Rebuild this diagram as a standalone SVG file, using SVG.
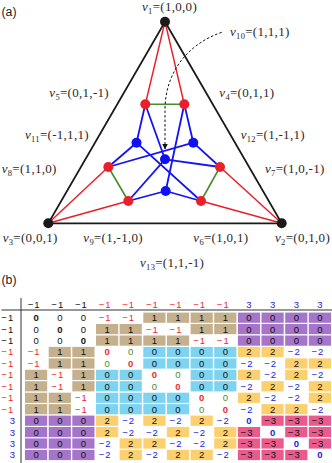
<svg xmlns="http://www.w3.org/2000/svg" width="332" height="463" viewBox="0 0 332 463">
<style>
.lbl{font-family:"Liberation Serif","Times New Roman",serif;font-size:13px;fill:#2a2a2a;letter-spacing:0.3px}
.v{font-style:italic}
.s{font-size:8.5px}
.pl{font-family:"Liberation Sans",Arial,sans-serif;font-size:12.3px;fill:#222}
.eb{stroke:#1a1a1a;stroke-width:1.8;fill:none}
.er{stroke:#e8202a;stroke-width:1.5}
.eu{stroke:#1414f0;stroke-width:1.8}
.eg{stroke:#4a8a30;stroke-width:1.6}
.nk{fill:#1a1a1a}
.nr{fill:#e8202a}
.nb{fill:#1010f0}
.m{font-family:"Liberation Sans",Arial,sans-serif;font-size:9.5px;text-anchor:middle;fill:#111}
.r{fill:#ee2a30}
.b{fill:#2222e0}
.g{fill:#4e8a2e}
.w{font-weight:bold}
.cb{fill:#c4b08c}
.cp{fill:#a475c8}
.cc{fill:#7ed3f0}
.cy{fill:#fcd06e}
.ck{fill:#ea5a8c}
.ax{stroke:#333;stroke-width:1}
</style>
<defs>
<marker id="ah" viewBox="0 0 6 6" refX="5.5" refY="3" markerWidth="6" markerHeight="6" orient="auto" markerUnits="userSpaceOnUse">
<path d="M0,0 L6,3 L0,6 z" fill="#111"/>
</marker>
</defs>

<text class="pl" x="1.5" y="15.7">(a)</text>

<g id="connectors">
<polygon class="eb" points="165,21.7 281.7,223.3 48.3,223.3"/>
<line class="er" x1="165" y1="21.7" x2="145.3" y2="104.3"/>
<line class="er" x1="165" y1="21.7" x2="184.3" y2="104.3"/>
<line class="er" x1="48.3" y1="223.3" x2="108.3" y2="167"/>
<line class="er" x1="48.3" y1="223.3" x2="128.3" y2="201"/>
<line class="er" x1="281.7" y1="223.3" x2="220" y2="167"/>
<line class="er" x1="281.7" y1="223.3" x2="201" y2="201"/>
<line class="eg" x1="145.3" y1="104.3" x2="184.3" y2="104.3"/>
<line class="eg" x1="108.3" y1="167" x2="128.3" y2="201"/>
<line class="eg" x1="220" y1="167" x2="201" y2="201"/>
<line class="eu" x1="184.3" y1="104.3" x2="193.3" y2="142.7"/>
<line class="eu" x1="184.3" y1="104.3" x2="165.7" y2="191"/>
<line class="eu" x1="145.3" y1="104.3" x2="165" y2="159.3"/>
<line class="eu" x1="145.3" y1="104.3" x2="136.5" y2="142.7"/>
<line class="eu" x1="201" y1="201" x2="136.5" y2="142.7"/>
<line class="eu" x1="201" y1="201" x2="165.7" y2="191"/>
<line class="eu" x1="220" y1="167" x2="165" y2="159.3"/>
<line class="eu" x1="220" y1="167" x2="193.3" y2="142.7"/>
<line class="eu" x1="108.3" y1="167" x2="136.5" y2="142.7"/>
<line class="eu" x1="108.3" y1="167" x2="193.3" y2="142.7"/>
<line class="eu" x1="128.3" y1="201" x2="165" y2="159.3"/>
<line class="eu" x1="128.3" y1="201" x2="165.7" y2="191"/>
<path d="M221.7,32.3 C185,45 165,75 165,110 L165,149" fill="none" stroke="#111" stroke-width="1" stroke-dasharray="2.5 2" marker-end="url(#ah)"/>
</g>

<g id="v1"><circle class="nk" cx="165" cy="21.7" r="5"/><text class="lbl" x="142" y="10.8"><tspan class="v">v</tspan><tspan class="s" dy="3">1</tspan><tspan dy="-3">=(1,0,0)</tspan></text></g>
<g id="v2"><circle class="nk" cx="281.7" cy="223.3" r="5"/><text class="lbl" x="275" y="241.7"><tspan class="v">v</tspan><tspan class="s" dy="3">2</tspan><tspan dy="-3">=(0,1,0)</tspan></text></g>
<g id="v3"><circle class="nk" cx="48.3" cy="223.3" r="5"/><text class="lbl" x="2.7" y="241.7"><tspan class="v">v</tspan><tspan class="s" dy="3">3</tspan><tspan dy="-3">=(0,0,1)</tspan></text></g>
<g id="v4"><circle class="nr" cx="184.3" cy="104.3" r="5"/><text class="lbl" x="219.3" y="96.7"><tspan class="v">v</tspan><tspan class="s" dy="3">4</tspan><tspan dy="-3">=(0,1,1)</tspan></text></g>
<g id="v5"><circle class="nr" cx="145.3" cy="104.3" r="5"/><text class="lbl" x="49.3" y="96.7"><tspan class="v">v</tspan><tspan class="s" dy="3">5</tspan><tspan dy="-3">=(0,1,-1)</tspan></text></g>
<g id="v6"><circle class="nr" cx="201" cy="201" r="5"/><text class="lbl" x="193.3" y="241.7"><tspan class="v">v</tspan><tspan class="s" dy="3">6</tspan><tspan dy="-3">=(1,0,1)</tspan></text></g>
<g id="v7"><circle class="nr" cx="220" cy="167" r="5"/><text class="lbl" x="265" y="173.3"><tspan class="v">v</tspan><tspan class="s" dy="3">7</tspan><tspan dy="-3">=(1,0,-1)</tspan></text></g>
<g id="v8"><circle class="nr" cx="108.3" cy="167" r="5"/><text class="lbl" x="1.7" y="173.3"><tspan class="v">v</tspan><tspan class="s" dy="3">8</tspan><tspan dy="-3">=(1,1,0)</tspan></text></g>
<g id="v9"><circle class="nr" cx="128.3" cy="201" r="5"/><text class="lbl" x="83.3" y="241.7"><tspan class="v">v</tspan><tspan class="s" dy="3">9</tspan><tspan dy="-3">=(1,-1,0)</tspan></text></g>
<g id="v10"><circle class="nb" cx="165" cy="159.3" r="5"/><text class="lbl" x="230" y="35.7"><tspan class="v">v</tspan><tspan class="s" dy="3">10</tspan><tspan dy="-3">=(1,1,1)</tspan></text></g>
<g id="v11"><circle class="nb" cx="136.5" cy="142.7" r="5"/><text class="lbl" x="25" y="139.3"><tspan class="v">v</tspan><tspan class="s" dy="3">11</tspan><tspan dy="-3">=(-1,1,1)</tspan></text></g>
<g id="v12"><circle class="nb" cx="193.3" cy="142.7" r="5"/><text class="lbl" x="240.7" y="139.3"><tspan class="v">v</tspan><tspan class="s" dy="3">12</tspan><tspan dy="-3">=(1,-1,1)</tspan></text></g>
<g id="v13"><circle class="nb" cx="165.7" cy="191" r="5"/><text class="lbl" x="140" y="266.7"><tspan class="v">v</tspan><tspan class="s" dy="3">13</tspan><tspan dy="-3">=(1,1,-1)</tspan></text></g>

<text class="pl" x="1.5" y="284">(b)</text>

<g id="matrix">
<line class="ax" x1="1.5" y1="310" x2="332" y2="310"/>
<line class="ax" x1="21" y1="298" x2="21" y2="463"/>

<g transform="translate(0,304.4)">
<text class="m" x="33.6" y="3.4">−<tspan dx="1">1</tspan></text>
<text class="m" x="57.3" y="3.4">−<tspan dx="1">1</tspan></text>
<text class="m" x="80.9" y="3.4">−<tspan dx="1">1</tspan></text>
<text class="m r" x="104.6" y="3.4">−<tspan dx="1">1</tspan></text>
<text class="m r" x="128.2" y="3.4">−<tspan dx="1">1</tspan></text>
<text class="m r" x="151.9" y="3.4">−<tspan dx="1">1</tspan></text>
<text class="m r" x="175.5" y="3.4">−<tspan dx="1">1</tspan></text>
<text class="m r" x="199.2" y="3.4">−<tspan dx="1">1</tspan></text>
<text class="m r" x="222.8" y="3.4">−<tspan dx="1">1</tspan></text>
<text class="m b" x="249" y="3.4">3</text>
<text class="m b" x="272.6" y="3.4">3</text>
<text class="m b" x="296.3" y="3.4">3</text>
<text class="m b" x="319.9" y="3.4">3</text>
</g>

<!-- row 1 -->
<g transform="translate(0,317.7)">
<text class="m" x="7.3" y="3.4">−<tspan dx="1">1</tspan></text>
<rect class="cb" x="143.3" y="-5.1" width="22.2" height="10.2"/><rect class="cb" x="166.9" y="-5.1" width="22.2" height="10.2"/><rect class="cb" x="190.6" y="-5.1" width="22.2" height="10.2"/><rect class="cb" x="214.2" y="-5.1" width="22.2" height="10.2"/>
<rect class="cp" x="237.9" y="-5.1" width="22.2" height="10.2"/><rect class="cp" x="261.5" y="-5.1" width="22.2" height="10.2"/><rect class="cp" x="285.2" y="-5.1" width="22.2" height="10.2"/><rect class="cp" x="308.8" y="-5.1" width="22.2" height="10.2"/>
<text class="m w" x="36.1" y="3.4">0</text><text class="m" x="59.8" y="3.4">0</text><text class="m" x="83.4" y="3.4">0</text>
<text class="m r" x="104.6" y="3.4">−<tspan dx="1">1</tspan></text><text class="m r" x="128.2" y="3.4">−<tspan dx="1">1</tspan></text>
<text class="m" x="154.4" y="3.4">1</text><text class="m" x="178" y="3.4">1</text><text class="m" x="201.7" y="3.4">1</text><text class="m" x="225.3" y="3.4">1</text>
<text class="m" x="249" y="3.4">0</text><text class="m" x="272.6" y="3.4">0</text><text class="m" x="296.3" y="3.4">0</text><text class="m" x="319.9" y="3.4">0</text>
</g>

<!-- row 2 -->
<g transform="translate(0,329.1)">
<text class="m" x="7.3" y="3.4">−<tspan dx="1">1</tspan></text>
<rect class="cb" x="96" y="-5.1" width="22.2" height="10.2"/><rect class="cb" x="119.6" y="-5.1" width="22.2" height="10.2"/><rect class="cb" x="190.6" y="-5.1" width="22.2" height="10.2"/><rect class="cb" x="214.2" y="-5.1" width="22.2" height="10.2"/>
<rect class="cp" x="237.9" y="-5.1" width="22.2" height="10.2"/><rect class="cp" x="261.5" y="-5.1" width="22.2" height="10.2"/><rect class="cp" x="285.2" y="-5.1" width="22.2" height="10.2"/><rect class="cp" x="308.8" y="-5.1" width="22.2" height="10.2"/>
<text class="m" x="36.1" y="3.4">0</text><text class="m w" x="59.8" y="3.4">0</text><text class="m" x="83.4" y="3.4">0</text>
<text class="m" x="107.1" y="3.4">1</text><text class="m" x="130.7" y="3.4">1</text>
<text class="m r" x="151.9" y="3.4">−<tspan dx="1">1</tspan></text><text class="m r" x="175.5" y="3.4">−<tspan dx="1">1</tspan></text>
<text class="m" x="201.7" y="3.4">1</text><text class="m" x="225.3" y="3.4">1</text>
<text class="m" x="249" y="3.4">0</text><text class="m" x="272.6" y="3.4">0</text><text class="m" x="296.3" y="3.4">0</text><text class="m" x="319.9" y="3.4">0</text>
</g>

<!-- row 3 -->
<g transform="translate(0,340.6)">
<text class="m" x="7.3" y="3.4">−<tspan dx="1">1</tspan></text>
<rect class="cb" x="96" y="-5.1" width="22.2" height="10.2"/><rect class="cb" x="119.6" y="-5.1" width="22.2" height="10.2"/><rect class="cb" x="143.3" y="-5.1" width="22.2" height="10.2"/><rect class="cb" x="166.9" y="-5.1" width="22.2" height="10.2"/>
<rect class="cp" x="237.9" y="-5.1" width="22.2" height="10.2"/><rect class="cp" x="261.5" y="-5.1" width="22.2" height="10.2"/><rect class="cp" x="285.2" y="-5.1" width="22.2" height="10.2"/><rect class="cp" x="308.8" y="-5.1" width="22.2" height="10.2"/>
<text class="m" x="36.1" y="3.4">0</text><text class="m" x="59.8" y="3.4">0</text><text class="m w" x="83.4" y="3.4">0</text>
<text class="m" x="107.1" y="3.4">1</text><text class="m" x="130.7" y="3.4">1</text><text class="m" x="154.4" y="3.4">1</text><text class="m" x="178" y="3.4">1</text>
<text class="m r" x="199.2" y="3.4">−<tspan dx="1">1</tspan></text><text class="m r" x="222.8" y="3.4">−<tspan dx="1">1</tspan></text>
<text class="m" x="249" y="3.4">0</text><text class="m" x="272.6" y="3.4">0</text><text class="m" x="296.3" y="3.4">0</text><text class="m" x="319.9" y="3.4">0</text>
</g>

<!-- row 4 -->
<g transform="translate(0,352)">
<text class="m r" x="7.3" y="3.4">−<tspan dx="1">1</tspan></text>
<rect class="cb" x="48.7" y="-5.1" width="22.2" height="10.2"/><rect class="cb" x="72.3" y="-5.1" width="22.2" height="10.2"/>
<rect class="cc" x="143.3" y="-5.1" width="22.2" height="10.2"/><rect class="cc" x="166.9" y="-5.1" width="22.2" height="10.2"/><rect class="cc" x="190.6" y="-5.1" width="22.2" height="10.2"/><rect class="cc" x="214.2" y="-5.1" width="22.2" height="10.2"/>
<rect class="cy" x="237.9" y="-5.1" width="22.2" height="10.2"/><rect class="cy" x="261.5" y="-5.1" width="22.2" height="10.2"/>
<text class="m r" x="33.6" y="3.4">−<tspan dx="1">1</tspan></text>
<text class="m" x="59.8" y="3.4">1</text><text class="m" x="83.4" y="3.4">1</text>
<text class="m r w" x="107.1" y="3.4">0</text><text class="m g" x="130.7" y="3.4">0</text>
<text class="m" x="154.4" y="3.4">0</text><text class="m" x="178" y="3.4">0</text><text class="m" x="201.7" y="3.4">0</text><text class="m" x="225.3" y="3.4">0</text>
<text class="m" x="249" y="3.4">2</text><text class="m" x="272.6" y="3.4">2</text>
<text class="m b" x="293.8" y="3.4">−<tspan dx="1">2</tspan></text><text class="m b" x="317.4" y="3.4">−<tspan dx="1">2</tspan></text>
</g>

<!-- row 5 -->
<g transform="translate(0,363.5)">
<text class="m r" x="7.3" y="3.4">−<tspan dx="1">1</tspan></text>
<rect class="cb" x="48.7" y="-5.1" width="22.2" height="10.2"/><rect class="cb" x="72.3" y="-5.1" width="22.2" height="10.2"/>
<rect class="cc" x="143.3" y="-5.1" width="22.2" height="10.2"/><rect class="cc" x="166.9" y="-5.1" width="22.2" height="10.2"/><rect class="cc" x="190.6" y="-5.1" width="22.2" height="10.2"/><rect class="cc" x="214.2" y="-5.1" width="22.2" height="10.2"/>
<rect class="cy" x="285.2" y="-5.1" width="22.2" height="10.2"/><rect class="cy" x="308.8" y="-5.1" width="22.2" height="10.2"/>
<text class="m r" x="33.6" y="3.4">−<tspan dx="1">1</tspan></text>
<text class="m" x="59.8" y="3.4">1</text><text class="m" x="83.4" y="3.4">1</text>
<text class="m g" x="107.1" y="3.4">0</text><text class="m r w" x="130.7" y="3.4">0</text>
<text class="m" x="154.4" y="3.4">0</text><text class="m" x="178" y="3.4">0</text><text class="m" x="201.7" y="3.4">0</text><text class="m" x="225.3" y="3.4">0</text>
<text class="m b" x="246.5" y="3.4">−<tspan dx="1">2</tspan></text><text class="m b" x="270.1" y="3.4">−<tspan dx="1">2</tspan></text>
<text class="m" x="296.3" y="3.4">2</text><text class="m" x="319.9" y="3.4">2</text>
</g>

<!-- row 6 -->
<g transform="translate(0,374.9)">
<text class="m r" x="7.3" y="3.4">−<tspan dx="1">1</tspan></text>
<rect class="cb" x="25" y="-5.1" width="22.2" height="10.2"/><rect class="cb" x="72.3" y="-5.1" width="22.2" height="10.2"/>
<rect class="cc" x="96" y="-5.1" width="22.2" height="10.2"/><rect class="cc" x="119.6" y="-5.1" width="22.2" height="10.2"/><rect class="cc" x="190.6" y="-5.1" width="22.2" height="10.2"/><rect class="cc" x="214.2" y="-5.1" width="22.2" height="10.2"/>
<rect class="cy" x="237.9" y="-5.1" width="22.2" height="10.2"/><rect class="cy" x="285.2" y="-5.1" width="22.2" height="10.2"/>
<text class="m" x="36.1" y="3.4">1</text><text class="m r" x="57.3" y="3.4">−<tspan dx="1">1</tspan></text><text class="m" x="83.4" y="3.4">1</text>
<text class="m" x="107.1" y="3.4">0</text><text class="m" x="130.7" y="3.4">0</text>
<text class="m r w" x="154.4" y="3.4">0</text><text class="m g" x="178" y="3.4">0</text>
<text class="m" x="201.7" y="3.4">0</text><text class="m" x="225.3" y="3.4">0</text>
<text class="m" x="249" y="3.4">2</text><text class="m b" x="270.1" y="3.4">−<tspan dx="1">2</tspan></text>
<text class="m" x="296.3" y="3.4">2</text><text class="m b" x="317.4" y="3.4">−<tspan dx="1">2</tspan></text>
</g>

<!-- row 7 -->
<g transform="translate(0,386.3)">
<text class="m r" x="7.3" y="3.4">−<tspan dx="1">1</tspan></text>
<rect class="cb" x="25" y="-5.1" width="22.2" height="10.2"/><rect class="cb" x="72.3" y="-5.1" width="22.2" height="10.2"/>
<rect class="cc" x="96" y="-5.1" width="22.2" height="10.2"/><rect class="cc" x="119.6" y="-5.1" width="22.2" height="10.2"/><rect class="cc" x="190.6" y="-5.1" width="22.2" height="10.2"/><rect class="cc" x="214.2" y="-5.1" width="22.2" height="10.2"/>
<rect class="cy" x="261.5" y="-5.1" width="22.2" height="10.2"/><rect class="cy" x="308.8" y="-5.1" width="22.2" height="10.2"/>
<text class="m" x="36.1" y="3.4">1</text><text class="m r" x="57.3" y="3.4">−<tspan dx="1">1</tspan></text><text class="m" x="83.4" y="3.4">1</text>
<text class="m" x="107.1" y="3.4">0</text><text class="m" x="130.7" y="3.4">0</text>
<text class="m g" x="154.4" y="3.4">0</text><text class="m r w" x="178" y="3.4">0</text>
<text class="m" x="201.7" y="3.4">0</text><text class="m" x="225.3" y="3.4">0</text>
<text class="m b" x="246.5" y="3.4">−<tspan dx="1">2</tspan></text><text class="m" x="272.6" y="3.4">2</text>
<text class="m b" x="293.8" y="3.4">−<tspan dx="1">2</tspan></text><text class="m" x="319.9" y="3.4">2</text>
</g>

<!-- row 8 -->
<g transform="translate(0,397.8)">
<text class="m r" x="7.3" y="3.4">−<tspan dx="1">1</tspan></text>
<rect class="cb" x="25" y="-5.1" width="22.2" height="10.2"/><rect class="cb" x="48.7" y="-5.1" width="22.2" height="10.2"/>
<rect class="cc" x="96" y="-5.1" width="22.2" height="10.2"/><rect class="cc" x="119.6" y="-5.1" width="22.2" height="10.2"/><rect class="cc" x="143.3" y="-5.1" width="22.2" height="10.2"/><rect class="cc" x="166.9" y="-5.1" width="22.2" height="10.2"/>
<rect class="cy" x="237.9" y="-5.1" width="22.2" height="10.2"/><rect class="cy" x="308.8" y="-5.1" width="22.2" height="10.2"/>
<text class="m" x="36.1" y="3.4">1</text><text class="m" x="59.8" y="3.4">1</text><text class="m r" x="80.9" y="3.4">−<tspan dx="1">1</tspan></text>
<text class="m" x="107.1" y="3.4">0</text><text class="m" x="130.7" y="3.4">0</text><text class="m" x="154.4" y="3.4">0</text><text class="m" x="178" y="3.4">0</text>
<text class="m r w" x="201.7" y="3.4">0</text><text class="m g" x="225.3" y="3.4">0</text>
<text class="m" x="249" y="3.4">2</text><text class="m b" x="270.1" y="3.4">−<tspan dx="1">2</tspan></text>
<text class="m b" x="293.8" y="3.4">−<tspan dx="1">2</tspan></text><text class="m" x="319.9" y="3.4">2</text>
</g>

<!-- row 9 -->
<g transform="translate(0,409.2)">
<text class="m r" x="7.3" y="3.4">−<tspan dx="1">1</tspan></text>
<rect class="cb" x="25" y="-5.1" width="22.2" height="10.2"/><rect class="cb" x="48.7" y="-5.1" width="22.2" height="10.2"/>
<rect class="cc" x="96" y="-5.1" width="22.2" height="10.2"/><rect class="cc" x="119.6" y="-5.1" width="22.2" height="10.2"/><rect class="cc" x="143.3" y="-5.1" width="22.2" height="10.2"/><rect class="cc" x="166.9" y="-5.1" width="22.2" height="10.2"/>
<rect class="cy" x="261.5" y="-5.1" width="22.2" height="10.2"/><rect class="cy" x="285.2" y="-5.1" width="22.2" height="10.2"/>
<text class="m" x="36.1" y="3.4">1</text><text class="m" x="59.8" y="3.4">1</text><text class="m r" x="80.9" y="3.4">−<tspan dx="1">1</tspan></text>
<text class="m" x="107.1" y="3.4">0</text><text class="m" x="130.7" y="3.4">0</text><text class="m" x="154.4" y="3.4">0</text><text class="m" x="178" y="3.4">0</text>
<text class="m g" x="201.7" y="3.4">0</text><text class="m r w" x="225.3" y="3.4">0</text>
<text class="m b" x="246.5" y="3.4">−<tspan dx="1">2</tspan></text><text class="m" x="272.6" y="3.4">2</text>
<text class="m" x="296.3" y="3.4">2</text><text class="m b" x="317.4" y="3.4">−<tspan dx="1">2</tspan></text>
</g>

<!-- row 10 -->
<g transform="translate(0,420.7)">
<text class="m b" x="12.5" y="3.4">3</text>
<rect class="cp" x="25" y="-5.1" width="22.2" height="10.2"/><rect class="cp" x="48.7" y="-5.1" width="22.2" height="10.2"/><rect class="cp" x="72.3" y="-5.1" width="22.2" height="10.2"/>
<rect class="cy" x="96" y="-5.1" width="22.2" height="10.2"/><rect class="cy" x="143.3" y="-5.1" width="22.2" height="10.2"/><rect class="cy" x="190.6" y="-5.1" width="22.2" height="10.2"/>
<rect class="ck" x="261.5" y="-5.1" width="22.2" height="10.2"/><rect class="ck" x="285.2" y="-5.1" width="22.2" height="10.2"/><rect class="ck" x="308.8" y="-5.1" width="22.2" height="10.2"/>
<text class="m" x="36.1" y="3.4">0</text><text class="m" x="59.8" y="3.4">0</text><text class="m" x="83.4" y="3.4">0</text>
<text class="m" x="107.1" y="3.4">2</text><text class="m b" x="128.2" y="3.4">−<tspan dx="1">2</tspan></text>
<text class="m" x="154.4" y="3.4">2</text><text class="m b" x="175.5" y="3.4">−<tspan dx="1">2</tspan></text>
<text class="m" x="201.7" y="3.4">2</text><text class="m b" x="222.8" y="3.4">−<tspan dx="1">2</tspan></text>
<text class="m b w" x="249" y="3.4">0</text>
<text class="m" x="270.1" y="3.4">−<tspan dx="1">3</tspan></text><text class="m" x="293.8" y="3.4">−<tspan dx="1">3</tspan></text><text class="m" x="317.4" y="3.4">−<tspan dx="1">3</tspan></text>
</g>

<!-- row 11 -->
<g transform="translate(0,432.1)">
<text class="m b" x="12.5" y="3.4">3</text>
<rect class="cp" x="25" y="-5.1" width="22.2" height="10.2"/><rect class="cp" x="48.7" y="-5.1" width="22.2" height="10.2"/><rect class="cp" x="72.3" y="-5.1" width="22.2" height="10.2"/>
<rect class="cy" x="96" y="-5.1" width="22.2" height="10.2"/><rect class="cy" x="166.9" y="-5.1" width="22.2" height="10.2"/><rect class="cy" x="214.2" y="-5.1" width="22.2" height="10.2"/>
<rect class="ck" x="237.9" y="-5.1" width="22.2" height="10.2"/><rect class="ck" x="285.2" y="-5.1" width="22.2" height="10.2"/><rect class="ck" x="308.8" y="-5.1" width="22.2" height="10.2"/>
<text class="m" x="36.1" y="3.4">0</text><text class="m" x="59.8" y="3.4">0</text><text class="m" x="83.4" y="3.4">0</text>
<text class="m" x="107.1" y="3.4">2</text><text class="m b" x="128.2" y="3.4">−<tspan dx="1">2</tspan></text>
<text class="m b" x="151.9" y="3.4">−<tspan dx="1">2</tspan></text><text class="m" x="178" y="3.4">2</text>
<text class="m b" x="199.2" y="3.4">−<tspan dx="1">2</tspan></text><text class="m" x="225.3" y="3.4">2</text>
<text class="m" x="246.5" y="3.4">−<tspan dx="1">3</tspan></text>
<text class="m b w" x="272.6" y="3.4">0</text>
<text class="m" x="293.8" y="3.4">−<tspan dx="1">3</tspan></text><text class="m" x="317.4" y="3.4">−<tspan dx="1">3</tspan></text>
</g>

<!-- row 12 -->
<g transform="translate(0,443.5)">
<text class="m b" x="12.5" y="3.4">3</text>
<rect class="cp" x="25" y="-5.1" width="22.2" height="10.2"/><rect class="cp" x="48.7" y="-5.1" width="22.2" height="10.2"/><rect class="cp" x="72.3" y="-5.1" width="22.2" height="10.2"/>
<rect class="cy" x="119.6" y="-5.1" width="22.2" height="10.2"/><rect class="cy" x="143.3" y="-5.1" width="22.2" height="10.2"/><rect class="cy" x="214.2" y="-5.1" width="22.2" height="10.2"/>
<rect class="ck" x="237.9" y="-5.1" width="22.2" height="10.2"/><rect class="ck" x="261.5" y="-5.1" width="22.2" height="10.2"/><rect class="ck" x="308.8" y="-5.1" width="22.2" height="10.2"/>
<text class="m" x="36.1" y="3.4">0</text><text class="m" x="59.8" y="3.4">0</text><text class="m" x="83.4" y="3.4">0</text>
<text class="m b" x="104.6" y="3.4">−<tspan dx="1">2</tspan></text><text class="m" x="130.7" y="3.4">2</text>
<text class="m" x="154.4" y="3.4">2</text><text class="m b" x="175.5" y="3.4">−<tspan dx="1">2</tspan></text>
<text class="m b" x="199.2" y="3.4">−<tspan dx="1">2</tspan></text><text class="m" x="225.3" y="3.4">2</text>
<text class="m" x="246.5" y="3.4">−<tspan dx="1">3</tspan></text><text class="m" x="270.1" y="3.4">−<tspan dx="1">3</tspan></text>
<text class="m b w" x="296.3" y="3.4">0</text>
<text class="m" x="317.4" y="3.4">−<tspan dx="1">3</tspan></text>
</g>

<!-- row 13 -->
<g transform="translate(0,455)">
<text class="m b" x="12.5" y="3.4">3</text>
<rect class="cp" x="25" y="-5.1" width="22.2" height="10.2"/><rect class="cp" x="48.7" y="-5.1" width="22.2" height="10.2"/><rect class="cp" x="72.3" y="-5.1" width="22.2" height="10.2"/>
<rect class="cy" x="119.6" y="-5.1" width="22.2" height="10.2"/><rect class="cy" x="166.9" y="-5.1" width="22.2" height="10.2"/><rect class="cy" x="190.6" y="-5.1" width="22.2" height="10.2"/>
<rect class="ck" x="237.9" y="-5.1" width="22.2" height="10.2"/><rect class="ck" x="261.5" y="-5.1" width="22.2" height="10.2"/><rect class="ck" x="285.2" y="-5.1" width="22.2" height="10.2"/>
<text class="m" x="36.1" y="3.4">0</text><text class="m" x="59.8" y="3.4">0</text><text class="m" x="83.4" y="3.4">0</text>
<text class="m b" x="104.6" y="3.4">−<tspan dx="1">2</tspan></text><text class="m" x="130.7" y="3.4">2</text>
<text class="m b" x="151.9" y="3.4">−<tspan dx="1">2</tspan></text><text class="m" x="178" y="3.4">2</text>
<text class="m" x="201.7" y="3.4">2</text><text class="m b" x="222.8" y="3.4">−<tspan dx="1">2</tspan></text>
<text class="m" x="246.5" y="3.4">−<tspan dx="1">3</tspan></text><text class="m" x="270.1" y="3.4">−<tspan dx="1">3</tspan></text><text class="m" x="293.8" y="3.4">−<tspan dx="1">3</tspan></text>
<text class="m b w" x="319.9" y="3.4">0</text>
</g>
</g>
</svg>
